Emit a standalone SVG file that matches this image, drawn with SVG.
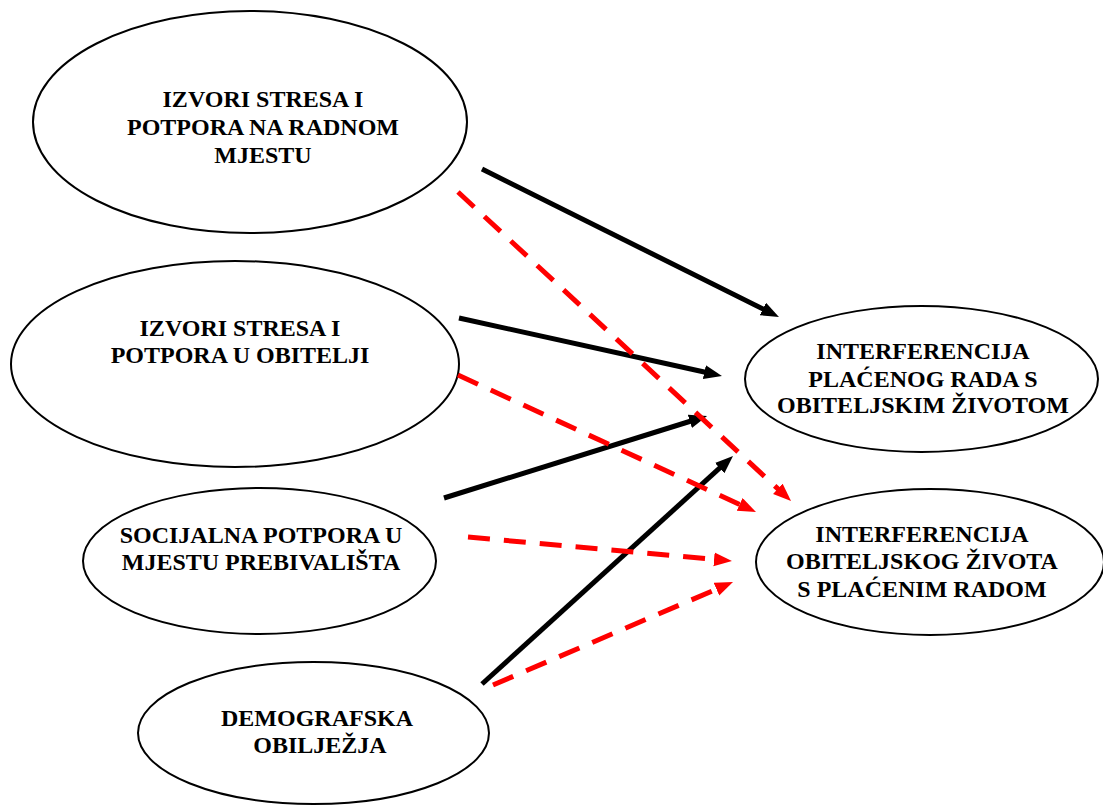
<svg xmlns="http://www.w3.org/2000/svg" width="1103" height="805" viewBox="0 0 1103 805">
<style>
.n{fill:#fff;stroke:#000;stroke-width:2}
.t{font-weight:bold;font-size:24px;fill:#000;text-anchor:middle}
.b{stroke:#000;stroke-width:5;fill:none}
.r{stroke:#f00;stroke-width:5;fill:none;stroke-dasharray:22 14}
</style>
<defs>
<marker id="ab" markerUnits="userSpaceOnUse" markerWidth="20" markerHeight="16" refX="8" refY="7" orient="auto"><path d="M0,0 L18,7 L0,14 z" fill="#000"/></marker>
<marker id="ar" markerUnits="userSpaceOnUse" markerWidth="20" markerHeight="16" refX="8" refY="7" orient="auto"><path d="M0,0 L18,7 L0,14 z" fill="#f00"/></marker>
</defs>
<rect width="1103" height="805" fill="#fff"/>
<g font-family="Liberation Serif, serif">
<g id="n1"><ellipse class="n" cx="250" cy="122" rx="217" ry="111"/>
<text class="t" x="263" y="107">IZVORI STRESA I</text><text class="t" x="263" y="135">POTPORA NA RADNOM</text><text class="t" x="263" y="163">MJESTU</text></g>
<g id="n2"><ellipse class="n" cx="235" cy="364" rx="224" ry="103"/>
<text class="t" x="240" y="336">IZVORI STRESA I</text><text class="t" x="240" y="363">POTPORA U OBITELJI</text></g>
<g id="n3"><ellipse class="n" cx="259.5" cy="561" rx="176.5" ry="73"/>
<text class="t" x="261" y="543">SOCIJALNA POTPORA U</text><text class="t" x="261" y="570">MJESTU PREBIVALIŠTA</text></g>
<g id="n4"><ellipse class="n" cx="313.5" cy="733" rx="175.5" ry="71"/>
<text class="t" x="317" y="726">DEMOGRAFSKA</text><text class="t" x="320" y="753">OBILJEŽJA</text></g>
<g id="n5"><ellipse class="n" cx="921.5" cy="379" rx="176.5" ry="73"/>
<text class="t" x="923" y="359">INTERFERENCIJA</text><text class="t" x="923" y="387">PLAĆENOG RADA S</text><text class="t" x="923" y="413">OBITELJSKIM ŽIVOTOM</text></g>
<g id="n6"><ellipse class="n" cx="930" cy="562" rx="174" ry="73"/>
<text class="t" x="922" y="542">INTERFERENCIJA</text><text class="t" x="922" y="569">OBITELJSKOG ŽIVOTA</text><text class="t" x="922" y="597">S PLAĆENIM RADOM</text></g>
</g>
<g id="connectors">
<line class="b" x1="482" y1="169" x2="770" y2="312.5" marker-end="url(#ab)"/>
<line class="b" x1="459" y1="318" x2="712.2" y2="373.8" marker-end="url(#ab)"/>
<line class="b" x1="444" y1="498" x2="697.5" y2="419" marker-end="url(#ab)"/>
<line class="b" x1="482" y1="684" x2="725.6" y2="462.7" marker-end="url(#ab)"/>
<line class="r" x1="458" y1="192" x2="783.7" y2="494.2" marker-end="url(#ar)"/>
<line class="r" x1="458" y1="375" x2="746.9" y2="507.8" marker-end="url(#ar)"/>
<line class="r" x1="468" y1="537" x2="722" y2="560.1" marker-end="url(#ar)"/>
<line class="r" x1="493" y1="685" x2="723.8" y2="586" marker-end="url(#ar)"/>
</g>
</svg>
